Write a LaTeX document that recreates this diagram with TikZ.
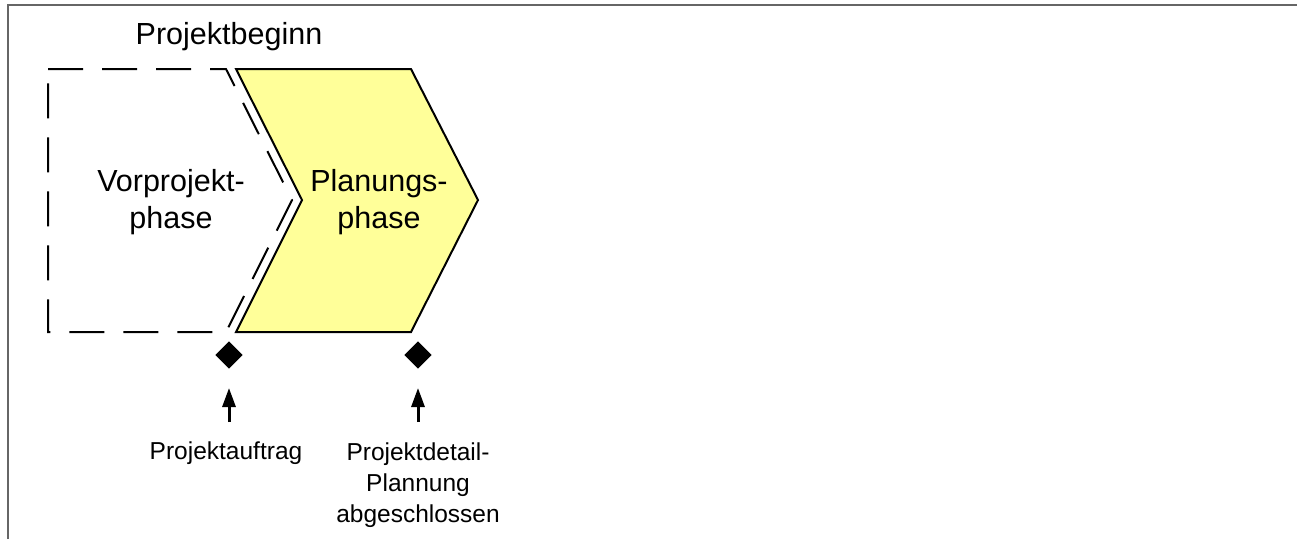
\documentclass[tikz,border=0pt]{standalone}
\usepackage{fontspec}
\setmainfont{Liberation Sans}
\usetikzlibrary{arrows.meta, shapes.geometric}
\definecolor{phaseyellow}{RGB}{255,255,153}

\begin{document}
\begin{tikzpicture}[
            x = 1pt, y = -1pt,
            line width = 2pt % line style
        ]

        \tikzstyle{phase}=[
            align = center,
            font = \fontsize{30.5}{37}\selectfont
        ]
        \tikzstyle{event}=[
            align = center,
            font = \fontsize{24.5}{31}\selectfont
        ]
        \tikzstyle{milestone}=[
            diamond,
            fill = black,
            inner sep = 0pt,
            minimum size = 28pt
        ]
        \tikzstyle{pointer}=[
            -{Triangle[length = 19pt, width = 13pt]},
            line width = 3pt,
            shorten > = 18pt
        ]

        \useasboundingbox (0,0) rectangle (1297,539);
        % frame
        \draw[line width = 2pt, black!60] (8,539) -- (8,5) -- (1297,5);

        % phases
        \draw[dashed, dash pattern = on 35pt off 19pt] (48,69) -- (226,69) -- (292,200) -- (226,332) -- (48,332) -- cycle;
        \draw[fill = phaseyellow] (236,69) -- (411,69) -- (478,200) -- (411,332) -- (236,332) -- (302,200) -- cycle;

        \node[phase] (v1) at (171,202) {Vorprojekt-\\phase};
        \node[phase] (v2) at (379,202) {Planungs-\\phase};
        \node[phase] (start) at (229,37) {Projektbeginn};

        % milestones
        \node[milestone] (m1) at (229,355) {};
        \node[milestone] (m2) at (418,355) {};
        \coordinate (t1) at (229,422);
        \coordinate (t2) at (418,422);
        \node[event] (e1) at (226,453) {Projektauftrag};
        \node[event] (e2) at (418,485) {Projektdetail-\\Plannung\\abgeschlossen};

        \draw[pointer] (t1) -- (m1);
        \draw[pointer] (t2) -- (m2);
    \end{tikzpicture}
\end{document}
